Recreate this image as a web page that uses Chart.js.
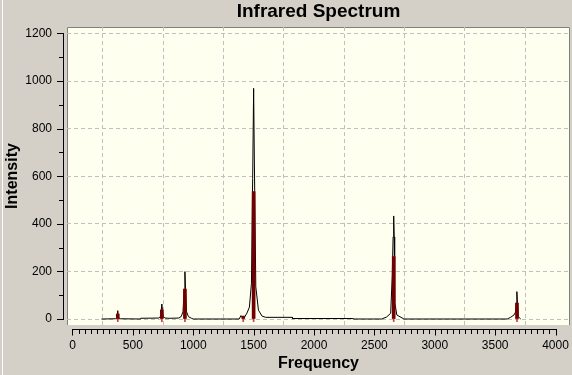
<!DOCTYPE html>
<html><head><meta charset="utf-8">
<script src="https://cdn.jsdelivr.net/npm/chart.js@4"></script>
<style>html,body{margin:0;padding:0;background:#d4d0c8;overflow:hidden}canvas{display:block}</style>
</head><body>
<canvas id="c" width="572" height="375"></canvas>
<script>
// Broadened spectrum (black curve)
const curveFreq = [240, 355, 368, 375, 382, 395, 560, 565, 715, 730, 740, 750, 765, 800, 880, 900, 915, 925, 931, 937, 945, 960, 985, 1000, 1380, 1395, 1410, 1425, 1445, 1465, 1482, 1492, 1500, 1506, 1518, 1540, 1570, 1600, 1820, 1822, 2320, 2322, 2560, 2600, 2635, 2648, 2655, 2660, 2664, 2668, 2686, 2745, 3600, 3628, 3656, 3670, 3674, 3680, 3685, 3692, 3712];
const curveIntensity = [0, 1, 6, 35, 6, 1, 0, 3, 4, 12, 63, 12, 4, 3, 4, 10, 30, 120, 199, 110, 30, 10, 3, 0, 0, 14, 5, 8, 25, 50, 150, 590, 969, 668, 135, 37, 12, 7, 7, 2, 2, 0, 0, 8, 24, 183, 345, 433, 345, 72, 17, 0, 0, 7, 17, 30, 67, 115, 67, 10, 0];
// Stick spectrum (red)
const stickFreq = [375, 740, 931, 1414, 1500, 2660, 3681];
const stickIntensity = [21, 38, 126, 12, 535, 262, 67];
// Axis ticks
const xTickValues = [0, 500, 1000, 1500, 2000, 2500, 3000, 3500, 4000];
const yTickValues = [0, 200, 400, 600, 800, 1000, 1200];
const xMinorStep = 50;
const yMinorStep = 100;

const FONT = "'Liberation Sans', Arial, sans-serif";
Chart.defaults.font.family = FONT;
Chart.defaults.color = '#000';

const curveData = curveFreq.map((f, i) => ({x: f, y: curveIntensity[i]}));
const stickData = stickFreq.map((f, i) => ({x: f, y: stickIntensity[i]}));

const decor = {
  id: 'decor',
  beforeDraw(chart) {
    const {ctx, chartArea: a} = chart;
    ctx.save();
    ctx.fillStyle = '#d4d0c8';
    ctx.fillRect(0, 0, chart.width, chart.height);
    ctx.fillStyle = '#ffffff';
    ctx.fillRect(2, 0, 1, chart.height);
    ctx.fillStyle = '#fffff0';
    ctx.fillRect(a.left, a.top, a.right - a.left, a.bottom - a.top);
    ctx.strokeStyle = '#808080';
    ctx.lineWidth = 1;
    ctx.beginPath();
    ctx.moveTo(a.left + 0.5, a.bottom);
    ctx.lineTo(a.left + 0.5, a.top + 0.5);
    ctx.lineTo(a.right - 0.5, a.top + 0.5);
    ctx.lineTo(a.right - 0.5, a.bottom);
    ctx.stroke();
    ctx.restore();
  },
  afterDraw(chart) {
    const {ctx, chartArea: a} = chart;
    const xs = chart.scales.x, ys = chart.scales.y;
    ctx.save();
    ctx.strokeStyle = '#000';
    ctx.lineWidth = 1;
    ctx.beginPath();
    // x axis
    const ax = a.bottom + 4.5;
    const x0 = Math.round(xs.getPixelForValue(xTickValues[0]));
    const x1 = Math.round(xs.getPixelForValue(xTickValues[xTickValues.length - 1]));
    ctx.moveTo(x0, ax); ctx.lineTo(x1 + 1, ax);
    for (let v = xTickValues[0]; v <= xTickValues[xTickValues.length - 1]; v += xMinorStep) {
      const px = Math.round(xs.getPixelForValue(v)) + 0.5;
      const major = xTickValues.includes(v);
      ctx.moveTo(px, ax); ctx.lineTo(px, ax + (major ? 6 : 4.5));
    }
    // y axis
    const ay = a.left - 3.5;
    const y0 = Math.round(ys.getPixelForValue(yTickValues[0]));
    const y1 = Math.round(ys.getPixelForValue(yTickValues[yTickValues.length - 1]));
    ctx.moveTo(ay, y1); ctx.lineTo(ay, y0 + 1);
    for (let v = yTickValues[0]; v <= yTickValues[yTickValues.length - 1]; v += yMinorStep) {
      const py = Math.round(ys.getPixelForValue(v)) + 0.5;
      const major = yTickValues.includes(v);
      ctx.moveTo(ay, py); ctx.lineTo(ay - (major ? 6.5 : 4.5), py);
    }
    ctx.stroke();
    ctx.restore();
  }
};

new Chart(document.getElementById('c'), {
  type: 'line',
  data: {
    datasets: [
      {
        type: 'bar', data: stickData, backgroundColor: '#720000', barThickness: 3,
        grouped: false, order: 0
      },
      {
        type: 'bar', data: stickData, backgroundColor: '#c84040', barThickness: 1,
        grouped: false, base: -11, order: 1
      },
      {
        type: 'line', data: curveData, borderColor: '#000', borderWidth: 1,
        pointRadius: 0, tension: 0, fill: false, order: 2
      }
    ]
  },
  options: {
    responsive: false,
    animation: false,
    devicePixelRatio: 1,
    layout: {padding: {left: 0, right: 2, top: 0, bottom: 0}},
    plugins: {
      legend: {display: false},
      tooltip: {enabled: false},
      title: {
        display: true, text: 'Infrared Spectrum', fullSize: false, color: '#000',
        font: {size: 19, weight: 'bold', family: FONT},
        padding: {top: 0, bottom: 4.2}
      }
    },
    scales: {
      x: {
        type: 'linear', position: 'bottom', min: -45.5, max: 4120, offset: false,
        afterBuildTicks: s => { s.ticks = xTickValues.map(v => ({value: v})); },
        afterFit: s => { s.height = 50; s.paddingLeft = 0; s.paddingRight = 0; },
        ticks: {autoSkip: false, maxRotation: 0, minRotation: 0, padding: 13, color: '#000', font: {size: 12},
                callback: v => String(v)},
        grid: {drawTicks: false, color: '#c0c0c0', lineWidth: 1},
        border: {display: false, dash: [4, 3]},
        title: {display: true, text: 'Frequency', color: '#000', font: {size: 16, weight: 'bold'}, padding: {top: 0, bottom: 1.4}}
      },
      y: {
        type: 'linear', position: 'left', min: -25.2, max: 1226.9,
        afterBuildTicks: s => { s.ticks = yTickValues.map(v => ({value: v})); },
        afterFit: s => { s.width = 67; s.paddingTop = 0; s.paddingBottom = 0; },
        ticks: {autoSkip: false, padding: 15, color: '#000', font: {size: 12},
                callback: v => String(v)},
        grid: {drawTicks: false, color: '#c0c0c0', lineWidth: 1},
        border: {display: false, dash: [4, 3]},
        title: {display: true, text: 'Intensity', color: '#000', font: {size: 16, weight: 'bold'}, padding: {top: 3.4, bottom: 0}}
      }
    }
  },
  plugins: [decor]
});
</script>
</body></html>
